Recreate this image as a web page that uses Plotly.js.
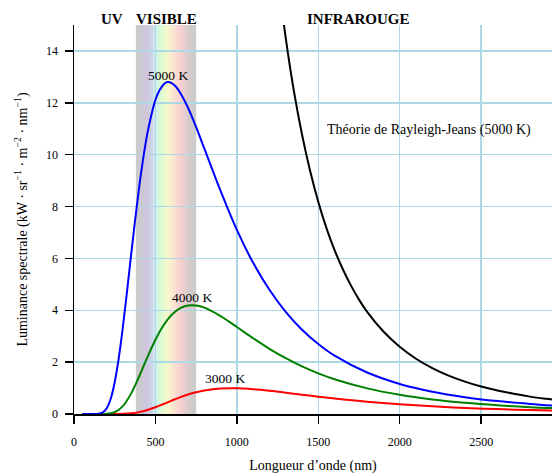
<!DOCTYPE html>
<html>
<head>
<meta charset="utf-8">
<script src="https://cdn.plot.ly/plotly-3.0.1.min.js"></script>
<style>body{margin:0;background:#fff}</style>
</head>
<body>
<div id="chart" style="width:552px;height:475px"></div>
<script>
// Wavelengths (nm) and spectral radiance (kW·sr^-1·m^-2·nm^-1)
const wl5000 = [50,100,150,175,200,225,250,275,300,325,350,375,400,425,450,475,500,525,550,575,600,625,650,700,750,800,900,1000,1100,1200,1300,1400,1500,1600,1800,2000,2200,2400,2600,2800,3000];
const L5000 = [0,0,0.007,0.052,0.210,0.577,1.223,2.162,3.346,4.691,6.095,7.470,8.742,9.86,10.80,11.53,12.11,12.48,12.71,12.80,12.76,12.63,12.41,11.81,11.06,10.24,8.60,7.10,5.83,4.79,3.94,3.25,2.70,2.25,1.60,1.16,0.86,0.65,0.50,0.39,0.30];

const wlCoarse = [50,100,150,200,250,300,350,400,450,500,550,600,650,700,750,800,900,1000,1100,1200,1300,1400,1500,1600,1800,2000,2200,2400,2600,2800,3000];
const L4000 = [0,0,0,0.006,0.069,0.304,0.781,1.447,2.181,2.865,3.423,3.825,4.070,4.181,4.181,4.100,3.776,3.356,2.922,2.514,2.152,1.837,1.568,1.341,0.989,0.739,0.560,0.430,0.335,0.265,0.212];
const L3000 = [0,0,0,0,0.001,0.006,0.025,0.072,0.152,0.260,0.386,0.518,0.642,0.751,0.840,0.908,0.983,0.992,0.957,0.896,0.823,0.745,0.669,0.597,0.472,0.372,0.295,0.235,0.188,0.152,0.124];

const wlRJ = [1250,1300,1350,1400,1450,1500,1550,1600,1650,1700,1750,1800,1900,2000,2100,2200,2300,2400,2500,2600,2700,2800,2900,3000];
const LRJ = [16.96,14.50,12.46,10.78,9.37,8.18,7.17,6.32,5.59,4.96,4.41,3.94,3.18,2.59,2.13,1.77,1.48,1.25,1.06,0.91,0.78,0.67,0.585,0.51];

const curveLabels = ['5000 K','4000 K','3000 K'];
const rjLabel = 'Théorie de Rayleigh-Jeans (5000 K)';
const regionLabels = ['UV','VISIBLE','INFRAROUGE'];
const visibleRange = [380, 750];

const FONT = 'Liberation Serif, Times New Roman, serif';

function tr(x, y, color) {
  return {x: x, y: y, type: 'scatter', mode: 'lines',
    line: {color: color, width: 2, shape: 'spline', smoothing: 1},
    hoverinfo: 'skip', showlegend: false};
}
const data = [
  tr(wlRJ, LRJ, '#000000'),
  tr(wlCoarse, L3000, '#ff0000'),
  tr(wlCoarse, L4000, '#008000'),
  tr(wl5000, L5000, '#0000ff')
];

// visible band gradient
const stops = [
  [380,[190,190,190]],[420,[192,188,200]],[447,[197,185,214]],[478,[190,202,228]],
  [500,[198,234,236]],[527,[206,247,208]],[555,[230,248,196]],[578,[247,245,194]],
  [607,[249,226,198]],[645,[249,201,199]],[680,[226,193,193]],[710,[201,191,191]],[750,[194,190,190]]
];
function colAt(w) {
  for (let i = 0; i < stops.length - 1; i++) {
    const a = stops[i], b = stops[i+1];
    if (w >= a[0] && w <= b[0]) {
      const t = (w - a[0]) / (b[0] - a[0]);
      const c = a[1].map((v, k) => Math.round(v + t * (b[1][k] - v)));
      return 'rgb(' + c.join(',') + ')';
    }
  }
  return 'rgb(194,190,190)';
}
const shapes = [];
const step = 2;
for (let w = visibleRange[0]; w < visibleRange[1]; w += step) {
  shapes.push({type: 'rect', xref: 'x', yref: 'paper', x0: w, x1: Math.min(w + step + 0.6, visibleRange[1]), y0: 0, y1: 1,
    fillcolor: colAt(w + step / 2), line: {width: 0}, layer: 'below'});
}

const annFont = {family: FONT, size: 13.5, color: '#000'};
const bold = {family: FONT, size: 15, color: '#000', weight: 'bold'};
const annotations = [
  {x: 576, y: 13.07, text: curveLabels[0]},
  {x: 723, y: 4.49, text: curveLabels[1]},
  {x: 925, y: 1.36, text: curveLabels[2]},
  {x: 2181, y: 10.94, text: rjLabel, font: {family: FONT, size: 14, color: '#000'}},
].map(a => Object.assign({xref: 'x', yref: 'y', showarrow: false, font: annFont, xanchor: 'center', yanchor: 'middle'}, a));
[[233, regionLabels[0]], [570, regionLabels[1]], [1745, regionLabels[2]]].forEach(p => {
  annotations.push({x: p[0], y: 1.0155, xref: 'x', yref: 'paper', text: '<b>' + p[1] + '</b>', showarrow: false,
    font: bold, xanchor: 'center', yanchor: 'middle'});
});

const axisCommon = {
  showgrid: true, gridcolor: '#add8e6', gridwidth: 1.5,
  showline: true, linecolor: '#000', linewidth: 1.5,
  ticks: 'outside', ticklen: 8, tickwidth: 1.5, tickcolor: '#000',
  zeroline: false, tickfont: {family: FONT, size: 12, color: '#000'},
  automargin: false
};
const layout = {
  width: 552, height: 475, autosize: false,
  margin: {l: 74, r: 0, t: 25, b: 61},
  paper_bgcolor: '#fff', plot_bgcolor: '#fff',
  showlegend: false,
  xaxis: Object.assign({}, axisCommon, {range: [0, 2935], tick0: 0, dtick: 500, ticklabelstandoff: 8,
    title: {text: 'Longueur d’onde (nm)', font: {family: FONT, size: 14, color: '#000'}, standoff: 12}}),
  yaxis: Object.assign({}, axisCommon, {range: [0, 15], tick0: 0, dtick: 2, ticklabelstandoff: 4,
    title: {text: 'Luminance spectrale (kW · sr<sup>−1</sup> · m<sup>−2</sup> · nm<sup>−1</sup>)', font: {family: FONT, size: 14, color: '#000'}, standoff: 15}}),
  shapes: shapes,
  annotations: annotations
};
Plotly.newPlot('chart', data, layout, {displayModeBar: false, staticPlot: true});
</script>
</body>
</html>
